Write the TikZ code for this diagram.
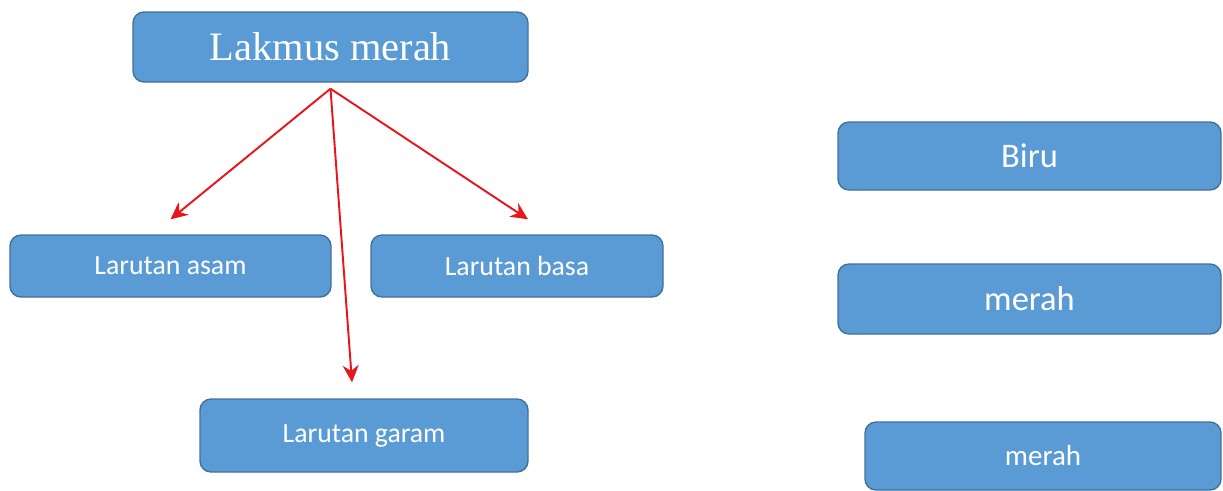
\documentclass[tikz,border=0pt]{standalone}
\usepackage{fontspec}
\setmainfont{Carlito}
\newfontfamily\titlefont{Liberation Serif}
\usetikzlibrary{arrows.meta}
\definecolor{boxblue}{HTML}{5B9BD5}
\definecolor{boxedge}{HTML}{41719C}
\definecolor{arrowred}{HTML}{E8161B}
\begin{document}
\begin{tikzpicture}[
		box/.style={draw=boxedge,fill=boxblue,line width=0.8pt,rounded corners=0.22cm,text=white,inner sep=0pt},
		smalltext/.style={font=\fontsize{15.8}{18}\selectfont},
		colortext/.style={font=\fontsize{19.6}{22}\selectfont},
		arr/.style={draw=arrowred,line width=1.1pt,-{Stealth[length=0.34cm,width=0.32cm]}}
	]
			\useasboundingbox (0,0) rectangle (24.46,-9.8);
			\node[box,minimum width=7.9cm,minimum height=1.4cm,font=\titlefont\fontsize{23}{26}\selectfont] (lakmus) at (6.61,-0.94) {Lakmus merah};
			\node[box,smalltext,minimum width=6.42cm,minimum height=1.24cm] (asam) at (3.41,-5.32) {Larutan asam};
			\node[box,smalltext,minimum width=5.84cm,minimum height=1.24cm] (basa) at (10.34,-5.32) {Larutan basa};
			\node[box,smalltext,minimum width=6.56cm,minimum height=1.46cm] (garam) at (7.28,-8.71) {Larutan garam};
			\node[box,colortext,minimum width=7.66cm,minimum height=1.36cm] (biru) at (20.59,-3.12) {Biru};
			\node[box,colortext,minimum width=7.66cm,minimum height=1.4cm] (merahA) at (20.59,-5.98) {merah};
			\node[box,font=\fontsize{16.5}{19}\selectfont,minimum width=7.12cm,minimum height=1.36cm] (merahB) at (20.86,-9.12) {merah};
			\coordinate (fork) at ([yshift=-0.12cm]lakmus.south);
			\draw[arr] (fork) -- ([yshift=0.3cm]asam.north);
			\draw[arr] (fork) -- ([xshift=0.22cm,yshift=0.3cm]basa.north);
			\draw[arr] (fork) -- ([xshift=-0.24cm,yshift=0.32cm]garam.north);
		\end{tikzpicture}
\end{document}
